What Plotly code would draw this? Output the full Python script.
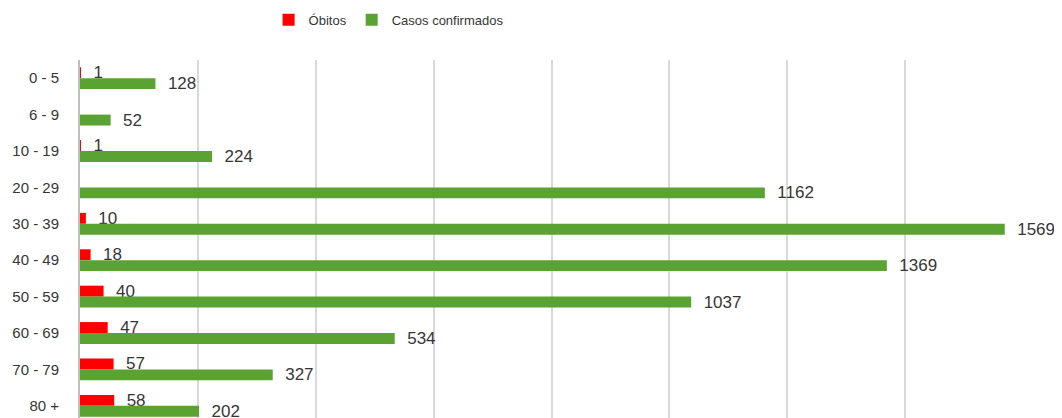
import plotly.graph_objects as go

categories = ["0 - 5", "6 - 9", "10 - 19", "20 - 29", "30 - 39", "40 - 49",
              "50 - 59", "60 - 69", "70 - 79", "80 +"]
obitos = [1, 0, 1, 0, 10, 18, 40, 47, 57, 58]
obitos_labels = ["1", "", "1", "", "10", "18", "40", "47", "57", "58"]
casos = [128, 52, 224, 1162, 1569, 1369, 1037, 534, 327, 202]

FONT = "Liberation Sans"
TXT = "#363636"

fig = go.Figure()
fig.add_trace(go.Bar(
    y=categories, x=obitos, orientation="h", name="Óbitos",
    marker=dict(color="#FF0000", line=dict(width=0)),
    text=["  " + t if t else "" for t in obitos_labels],
    textposition="outside", cliponaxis=False, constraintext="none",
    textfont=dict(family=FONT, size=17, color=TXT),
))
fig.add_trace(go.Bar(
    y=categories, x=casos, orientation="h", name="Casos confirmados",
    marker=dict(color="#5AA232", line=dict(width=0)),
    text=["  " + str(v) for v in casos],
    textposition="outside", cliponaxis=False, constraintext="none",
    textfont=dict(family=FONT, size=17, color=TXT),
))

# the page body has an 8px margin, so the figure is sized/shifted to compensate
fig.update_layout(
    width=1054, height=410,
    barmode="group", bargap=0.4, bargroupgap=0,
    plot_bgcolor="white", paper_bgcolor="white",
    margin=dict(l=72, r=39, t=52, b=0, autoexpand=False),
    font=dict(family=FONT, size=13, color=TXT),
    showlegend=True,
    legend=dict(orientation="h", x=0.2, xanchor="left", y=1.112, yref="paper",
                yanchor="middle", font=dict(family=FONT, size=13, color=TXT),
                itemwidth=30, tracegroupgap=0),
)
fig.update_xaxes(range=[0, 1600], dtick=200, showticklabels=False, automargin=False,
                 showgrid=True, gridcolor="#D9D9D9", gridwidth=2, zeroline=False)
fig.update_yaxes(autorange=False, range=[9.335, -0.5], showline=True, automargin=False,
                 linecolor="#BFBFBF", linewidth=2, showgrid=False,
                 ticks="", ticklabelstandoff=16,
                 tickfont=dict(family=FONT, size=15, color=TXT))

fig.write_html("out.html")
